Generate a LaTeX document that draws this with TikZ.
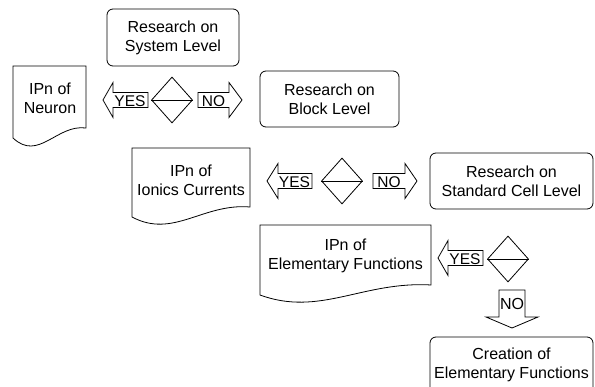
\documentclass[tikz,border=0pt]{standalone}
\usepackage{fontspec}
\setmainfont{Liberation Sans}
\usetikzlibrary{shapes.geometric}
\newcommand\boxfont{\fontsize{16}{19}\selectfont}
\newcommand\lblfont{\fontsize{15.5}{17}\selectfont}
\begin{document}
\begin{tikzpicture}[x=1pt,y=-1pt,line width=0.8pt,
  rbox/.style={draw,rounded corners=6pt,align=center,font=\boxfont,inner sep=0pt},
  doctext/.style={align=center,font=\boxfont,inner sep=0pt},
  lbl/.style={font=\lblfont,inner sep=0pt},
  dec/.style={draw,diamond,inner sep=0pt,minimum width=41pt,minimum height=46pt},
  barrow/.style={draw,line join=miter}]
\useasboundingbox (0,0) rectangle (595,387);
\fill[white] (0,0) rectangle (595,387);
\clip (0,0) rectangle (595,387);

% rounded process boxes
\node[rbox,minimum width=132pt,minimum height=57pt] (sys) at (173,37.5) {Research on\\System Level};
\node[rbox,minimum width=139pt,minimum height=56pt] (blk) at (329.5,99) {Research on\\Block Level};
\node[rbox,minimum width=163pt,minimum height=56pt] (std) at (511.5,181) {Research on\\Standard Cell Level};
\node[rbox,minimum width=163pt,minimum height=56pt] (cre) at (511.5,365) {Creation of\\Elementary Functions};

% document shapes
\draw (13,66) -- (86,66) -- (86,128) .. controls (56.8,124) and (38.5,162) .. (13,138) -- cycle;
\node[doctext] (neu) at (50,98.5) {IPn of\\Neuron};
\draw (132,148) -- (250,148) -- (250,207) .. controls (202.8,203) and (173.3,239) .. (132,217) -- cycle;
\node[doctext] (ion) at (191,180.5) {IPn of\\Ionics Currents};
\draw (260,225) -- (431,225) -- (431,285) .. controls (362.6,281) and (319.9,317) .. (260,295) -- cycle;
\node[doctext] (ele) at (345.5,256) {IPn of\\Elementary Functions};

% decisions
\node[dec] (d1) at (172,100) {};
\draw (d1.west) -- (d1.east);
\node[dec] (d2) at (342,181) {};
\draw (d2.west) -- (d2.east);
\node[dec] (d3) at (508,259) {};
\draw (d3.west) -- (d3.east);

% block arrows, row 1
\draw[barrow] (103,100) -- (113,82.5) -- (113,92.5) -- (148,92.5) -- (148,107.5) -- (113,107.5) -- (113,117.5) -- cycle;
\node[lbl] (y1) at (130,101) {YES};
\draw[barrow] (198,92.5) -- (229,92.5) -- (229,82.5) -- (242,100) -- (229,117.5) -- (229,107.5) -- (198,107.5) -- cycle;
\node[lbl] (n1) at (213.5,101) {NO};

% block arrows, row 2
\draw[barrow] (267,181) -- (278,163.5) -- (278,173.5) -- (312,173.5) -- (312,188.5) -- (278,188.5) -- (278,198.5) -- cycle;
\node[lbl] (y2) at (294.5,182) {YES};
\draw[barrow] (373,173.5) -- (405,173.5) -- (405,163.5) -- (417,181) -- (405,198.5) -- (405,188.5) -- (373,188.5) -- cycle;
\node[lbl] (n2) at (389,182) {NO};

% block arrows, row 3
\draw[barrow] (438,258) -- (448,240.5) -- (448,250.5) -- (483,250.5) -- (483,265.5) -- (448,265.5) -- (448,275.5) -- cycle;
\node[lbl] (y3) at (465,259) {YES};
\draw[barrow] (499,290) -- (525,290) -- (525,317) -- (538,317) -- (512,328) -- (486,317) -- (499,317) -- cycle;
\node[lbl,font=\fontsize{16}{17}\selectfont] (n3) at (512,304) {NO};
\end{tikzpicture}
\end{document}
